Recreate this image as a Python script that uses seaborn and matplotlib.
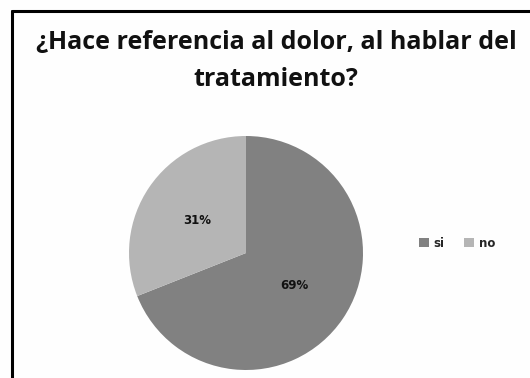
import matplotlib
matplotlib.use("Agg")
import matplotlib.pyplot as plt
from matplotlib.lines import Line2D
import seaborn as sns

categories = ["si", "no"]
values = [69, 31]
colors = ["#818181", "#b5b5b5"]
title_lines = ["¿Hace referencia al dolor, al hablar del", "tratamiento?"]

sns.set_theme(style="white")
plt.rcParams["font.family"] = ["Open Sans", "DejaVu Sans"]

W, H = 530, 378
fig = plt.figure(figsize=(W / 100, H / 100), dpi=100)
fig.patch.set_facecolor("#fefefe")

# frame lines along the left and top edges
fig.add_artist(Line2D([12 / W, 12 / W], [0, 1 - 11 / H], color="black", lw=2.2))
fig.add_artist(Line2D([12 / W, 1], [1 - 11 / H, 1 - 11 / H], color="black", lw=2.2))

# two-line title, one baseline per line
for line, base in zip(title_lines, [49, 86]):
    fig.text(276 / W, 1 - base / H, line, ha="center", va="baseline", fontsize=18,
             fontweight="bold", color="#111111")

cx, cy, r = 246, 253, 117
ax = fig.add_axes([(cx - r) / W, (H - cy - r) / H, 2 * r / W, 2 * r / H])
wedges, texts, autotexts = ax.pie(
    values, colors=colors, startangle=90, counterclock=False,
    autopct="%1.0f%%", pctdistance=0.5,
    wedgeprops=dict(linewidth=0),
    textprops=dict(fontsize=8.5, fontweight="bold", color="#111111",
                   family="DejaVu Sans"),
)
ax.set_xlim(-1, 1)
ax.set_ylim(-1, 1)
ax.set_aspect("equal")
ax.axis("off")

fig.legend(wedges, categories, loc="center", bbox_to_anchor=(457 / W, 1 - 243 / H),
           ncol=2, frameon=False, handlelength=0.8, handleheight=0.8,
           columnspacing=1.7, handletextpad=0.4,
           prop=dict(size=8.5, weight="bold", family="DejaVu Sans"))

fig.savefig("out.png", dpi=100, facecolor=fig.get_facecolor())
